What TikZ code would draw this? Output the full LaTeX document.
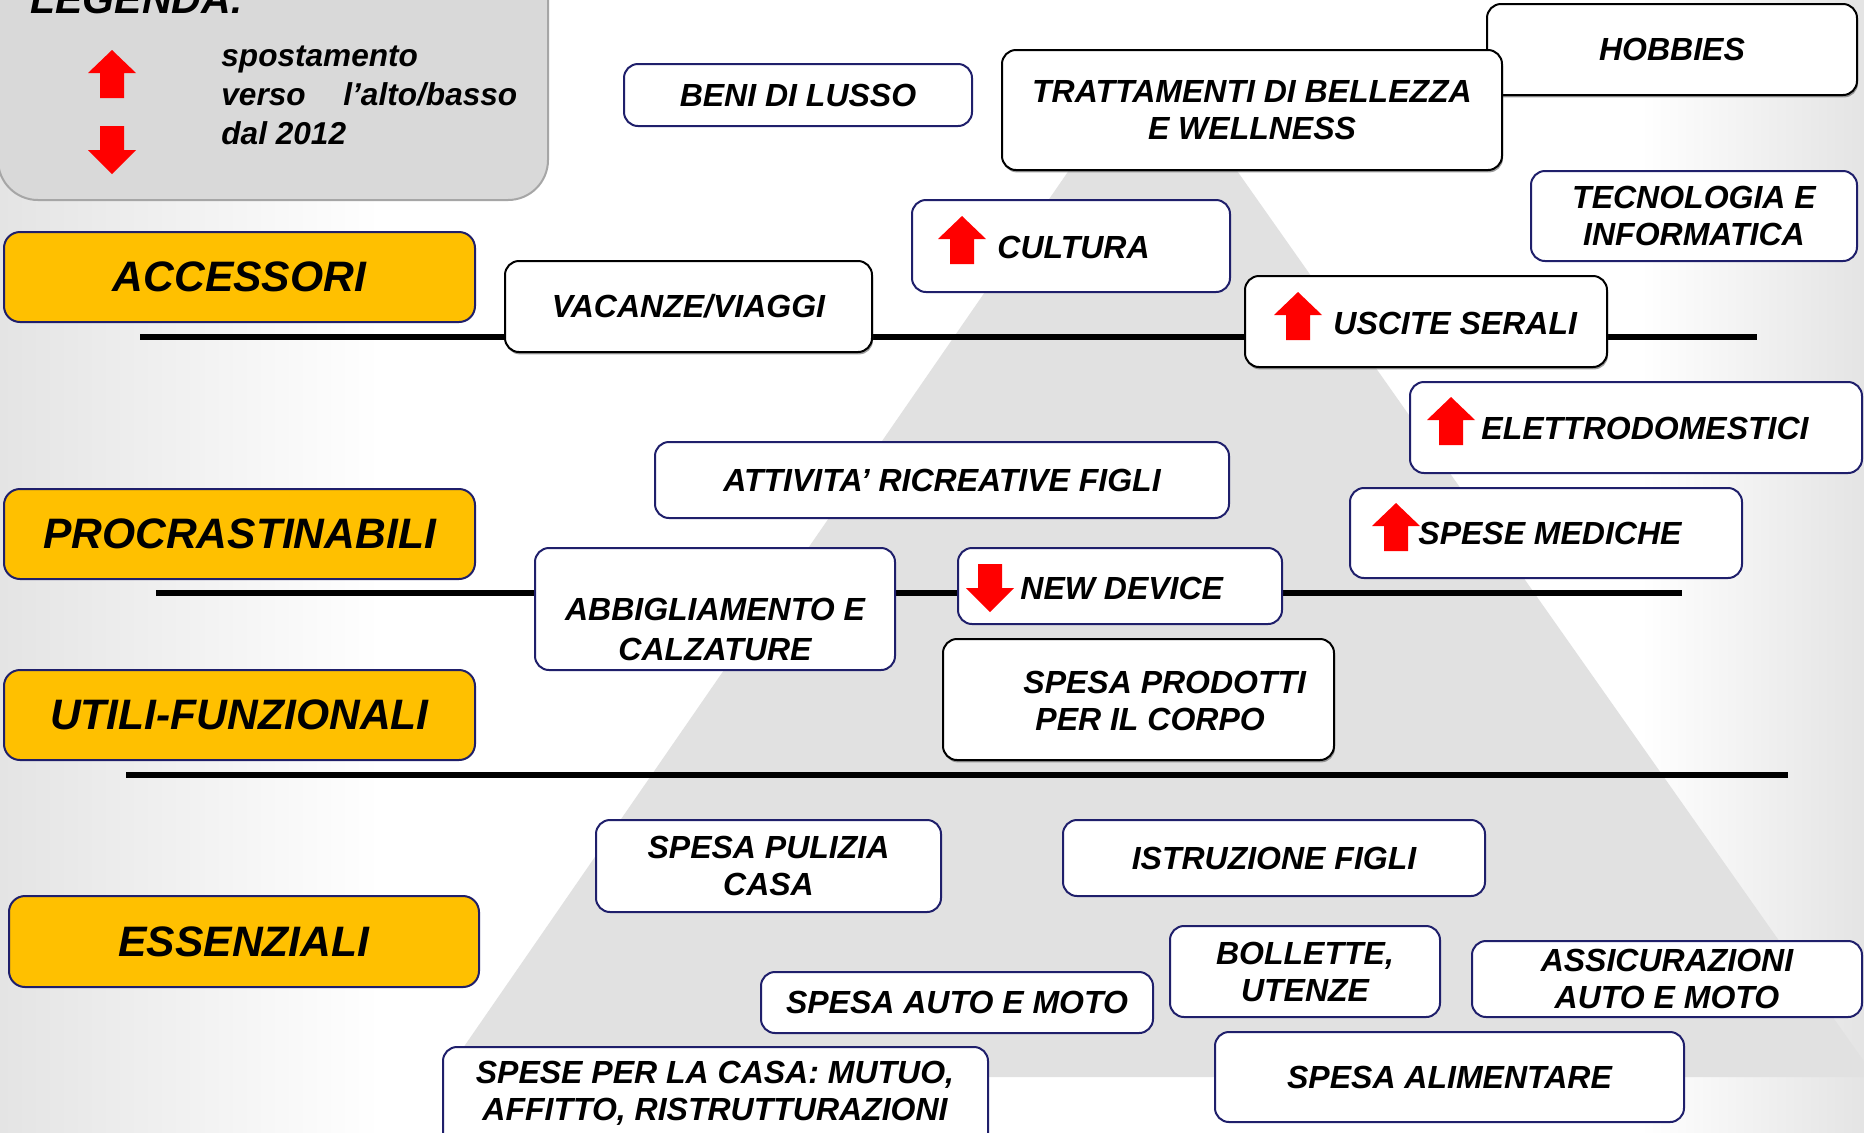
\documentclass[tikz,border=0pt]{standalone}
\usepackage{fontspec}
\setmainfont{Liberation Sans}
\usetikzlibrary{shadows}
\definecolor{navy}{HTML}{1F1F6B}
\definecolor{gold}{HTML}{FFC000}
\definecolor{arrred}{HTML}{FF0000}
\definecolor{pyr}{HTML}{E1E1E1}
\definecolor{legfill}{HTML}{D9D9D9}
\definecolor{legdraw}{HTML}{A6A6A6}
\definecolor{bgside}{HTML}{E4E4E4}
\newcommand{\bx}[7][wbox]{\node[#1, minimum width={(#5-#3)*0.5pt}, minimum height={(#6-#4)*0.5pt}] (#2) at ({(#3+#5)/2},{(#4+#6)/2}) {#7};}
\newcommand{\redup}[2]{\fill[arrred] (#1+24,#2) -- (#1+48,#2+23) -- (#1+36,#2+23) -- (#1+36,#2+48) -- (#1+12,#2+48) -- (#1+12,#2+23) -- (#1,#2+23) -- cycle;}
\newcommand{\reddown}[2]{\fill[arrred] (#1+12,#2) -- (#1+36,#2) -- (#1+36,#2+24) -- (#1+48,#2+24) -- (#1+24,#2+48) -- (#1,#2+24) -- (#1+12,#2+24) -- cycle;}
\begin{document}
\begin{tikzpicture}[x=0.5pt,y=-0.5pt,
  btxt/.style={font=\bfseries\itshape\fontsize{16}{18.5}\selectfont},
  wbox/.style={draw=navy, fill=white, line width=1pt, rounded corners=7pt, inner sep=0pt, align=center, btxt},
  kbox/.style={wbox, draw=black, drop shadow={shadow xshift=0.5pt, shadow yshift=-1.2pt, fill=black!55, opacity=0.7}},
  cat/.style={draw=navy, fill=gold, line width=1pt, rounded corners=8pt, inner sep=0pt, font=\bfseries\itshape\fontsize{21.3}{25}\selectfont},
  legbox/.style={draw=legdraw, fill=legfill, line width=1pt, rounded corners=20pt, inner sep=0pt},
  lbl/.style={inner sep=0pt, btxt},
  ltxt/.style={inner sep=0pt, anchor=base west, font=\bfseries\itshape\fontsize{15.8}{19}\selectfont},
  sepline/.style={line width=3pt, black}]
\useasboundingbox (0,0) rectangle (1864,1132);
\clip (0,0) rectangle (1864,1132);
% background
\fill[white] (0,0) rectangle (1864,1132);
\shade[left color=bgside, right color=white] (0,0) rectangle (380,1132);
\shade[left color=white, right color=bgside] (1640,0) rectangle (1864,1132);
\fill[pyr] (1152,50) -- (443,1077) -- (1875,1077) -- cycle;
% separator lines
\coordinate (l1a) at (140,337); \coordinate (l1b) at (1757,337);
\coordinate (l2a) at (156,593); \coordinate (l2b) at (1682,593);
\coordinate (l3a) at (126,775); \coordinate (l3b) at (1788,775);
\draw[sepline] (l1a) -- (l1b);
\draw[sepline] (l2a) -- (l2b);
\draw[sepline] (l3a) -- (l3b);
% legend
\bx[legbox]{legend}{-2}{-60}{548}{200}{}
\node[inner sep=0pt, anchor=base west, font=\bfseries\itshape\fontsize{20.5}{24}\selectfont] (legtitle) at (30,13) {LEGENDA:};
\redup{88}{50}
\reddown{88}{126}
\node[ltxt] (leg1) at (221,66) {spostamento};
\node[ltxt] (leg2) at (221,105) {verso};
\node[ltxt] (leg3) at (343,105) {l’alto/basso};
\node[ltxt] (leg4) at (221,144) {dal 2012};
% categories
\bx[cat]{acc}{4}{232}{475}{322}{ACCESSORI}
\bx[cat]{procr}{4}{489}{475}{579}{PROCRASTINABILI}
\bx[cat]{utili}{4}{670}{475}{760}{UTILI-FUNZIONALI}
\bx[cat]{ess}{9}{896}{479}{987}{ESSENZIALI}
% item boxes
\bx[kbox]{hobbies}{1487}{4}{1857}{95}{HOBBIES}
\bx[kbox]{tratt}{1002}{50}{1502}{170}{TRATTAMENTI DI BELLEZZA\\E WELLNESS}
\bx{lusso}{624}{64}{972}{126}{BENI DI LUSSO}
\bx{tecno}{1531}{171}{1857}{261}{TECNOLOGIA E\\INFORMATICA}
\bx{cultura}{912}{200}{1230}{292}{}
\redup{938}{216}
\node[lbl, anchor=west] (culturat) at (997,247) {CULTURA};
\bx[kbox]{vacanze}{505}{261}{872}{352}{VACANZE/VIAGGI}
\bx[kbox]{uscite}{1245}{276}{1607}{367}{}
\redup{1274}{292}
\node[lbl, anchor=west] (uscitet) at (1333,323) {USCITE SERALI};
\bx{elettro}{1410}{382}{1862}{473}{}
\redup{1427}{397}
\node[lbl, anchor=west] (elettrot) at (1481,428) {ELETTRODOMESTICI};
\bx{attiv}{655}{442}{1229}{518}{ATTIVITA’ RICREATIVE FIGLI}
\bx{medic}{1350}{488}{1742}{578}{}
\node[lbl, anchor=west] (medict) at (1418,533) {SPESE MEDICHE};
\redup{1372}{503}
\bx{abbigl}{535}{548}{895}{670}{}
\node[lbl, align=center, font=\bfseries\itshape\fontsize{16}{20}\selectfont] (abbiglt) at (715,629) {ABBIGLIAMENTO E\\CALZATURE};
\bx{newdev}{958}{548}{1282}{624}{}
\reddown{966}{564}
\node[lbl, anchor=west] (newdevt) at (1020,588) {NEW DEVICE};
\bx[kbox]{prodotti}{943}{639}{1334}{760}{}
\node[lbl, anchor=west] (prodt1) at (1023,682) {SPESA PRODOTTI};
\node[lbl, anchor=west] (prodt2) at (1035,719) {PER IL CORPO};
\bx{pulizia}{596}{820}{941}{912}{SPESA PULIZIA\\CASA}
\bx{istruz}{1063}{820}{1485}{896}{ISTRUZIONE FIGLI}
\bx{bollette}{1170}{926}{1440}{1017}{BOLLETTE,\\UTENZE}
\bx{assic}{1472}{941}{1862}{1017}{\fontsize{16}{20}\selectfont ASSICURAZIONI\\AUTO E MOTO}
\bx{auto}{761}{972}{1153}{1033}{SPESA AUTO E MOTO}
\bx{casa}{443}{1047}{988}{1170}{}
\node[lbl, align=center] (casat) at (715,1093) {SPESE PER LA CASA: MUTUO,\\AFFITTO, RISTRUTTURAZIONI};
\bx{aliment}{1215}{1032}{1684}{1122}{SPESA ALIMENTARE}
\end{tikzpicture}
\end{document}
